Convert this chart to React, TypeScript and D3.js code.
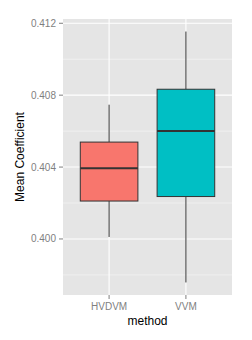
import * as d3 from 'd3'

const methods = ['HVDVM', 'VVM']
const fills = ['#F8766D', '#00BFC4']
// [lower whisker, q1, median, q3, upper whisker]
const hvdvmStats = [0.40011, 0.40211, 0.40393, 0.40539, 0.40747]
const vvmStats = [0.39758, 0.40236, 0.40600, 0.40833, 0.41154]
const majorTicks = [0.4, 0.404, 0.408, 0.412]
const minorTicks = [0.398, 0.402, 0.406, 0.41]

const W = 252
const H = 340
const margin = { top: 19, right: 20, bottom: 45, left: 63 }

export default function App() {
  const pw = W - margin.left - margin.right
  const ph = H - margin.top - margin.bottom
  const stats = [hvdvmStats, vvmStats]

  const lo = d3.min(stats, (s) => s[0]) as number
  const hi = d3.max(stats, (s) => s[4]) as number
  const pad = (hi - lo) * 0.05
  const y = d3.scaleLinear().domain([lo - pad, hi + pad]).range([ph, 0])

  // discrete x with ggplot's 0.6 expansion
  const x = d3.scaleLinear().domain([0.4, methods.length + 0.6]).range([0, pw])
  const boxW = (x(1.75) - x(1))

  const grey = '#7F7F7F'
  const font = 'Arial, "Liberation Sans", sans-serif'

  return (
    <svg width={W} height={H} style={{ position: 'absolute', left: 0, top: 0, background: '#fff' }}>
      <g transform={`translate(${margin.left},${margin.top})`}>
        <rect width={pw} height={ph} fill="#E5E5E5" />
        {minorTicks.map((t) => (
          <line key={`mi${t}`} x1={0} x2={pw} y1={y(t)} y2={y(t)} stroke="#F2F2F2" strokeWidth={0.8} />
        ))}
        {majorTicks.map((t) => (
          <line key={`ma${t}`} x1={0} x2={pw} y1={y(t)} y2={y(t)} stroke="#fff" strokeWidth={1.1} />
        ))}
        {methods.map((m, i) => (
          <line key={`vx${m}`} x1={x(i + 1)} x2={x(i + 1)} y1={0} y2={ph} stroke="#fff" strokeWidth={1.1} />
        ))}
        {stats.map((s, i) => {
          const cx = x(i + 1)
          return (
            <g key={methods[i]}>
              <line x1={cx} x2={cx} y1={y(s[4])} y2={y(s[3])} stroke="#333" strokeWidth={1} />
              <line x1={cx} x2={cx} y1={y(s[1])} y2={y(s[0])} stroke="#333" strokeWidth={1} />
              <rect
                x={cx - boxW / 2}
                y={y(s[3])}
                width={boxW}
                height={y(s[1]) - y(s[3])}
                fill={fills[i]}
                stroke="#333"
                strokeWidth={1}
              />
              <line x1={cx - boxW / 2} x2={cx + boxW / 2} y1={y(s[2])} y2={y(s[2])} stroke="#333" strokeWidth={2} />
            </g>
          )
        })}
        {majorTicks.map((t) => (
          <g key={`yt${t}`} transform={`translate(0,${y(t)})`}>
            <line x1={-4} x2={0} stroke={grey} />
            <text x={-7} dy="0.35em" textAnchor="end" fontFamily={font} fontSize={10} fill={grey}>
              {d3.format('.3f')(t)}
            </text>
          </g>
        ))}
        {methods.map((m, i) => (
          <g key={`xt${m}`} transform={`translate(${x(i + 1)},${ph})`}>
            <line y1={0} y2={4} stroke={grey} />
            <text y={15} textAnchor="middle" fontFamily={font} fontSize={10} fill={grey}>
              {m}
            </text>
          </g>
        ))}
        <text x={pw / 2} y={ph + 30} textAnchor="middle" fontFamily={font} fontSize={12} fill="#000">
          method
        </text>
        <text
          transform={`translate(${-39},${ph / 2}) rotate(-90)`}
          textAnchor="middle"
          fontFamily={font}
          fontSize={12}
          fill="#000"
        >
          Mean Coefficient
        </text>
      </g>
    </svg>
  )
}
